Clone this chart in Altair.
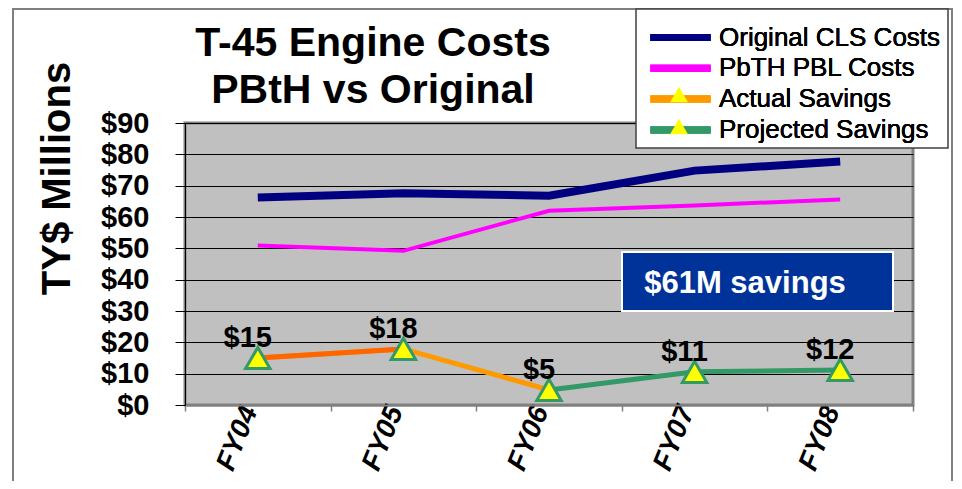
import altair as alt
import pandas as pd

# ---------------- data ----------------
years = ["FY04", "FY05", "FY06", "FY07", "FY08"]
original_cls = [66.2, 67.6, 66.8, 74.8, 77.7]
pbth_pbl = [50.9, 49.2, 62.0, 63.7, 65.6]
savings = [15.0, 17.9, 4.8, 10.6, 11.2]
savings_labels = ["$15", "$18", "$5", "$11", "$12"]
actual_years = ["FY04", "FY05", "FY06"]
first_segment_years = ["FY04", "FY05"]
projected_years = ["FY06", "FY07", "FY08"]
series_names = ["Original CLS Costs", "PbTH PBL Costs", "Actual Savings", "Projected Savings"]
series_colors = ["#000080", "#FF00FF", "#FF9900", "#339966"]
y_ticks = [0, 10, 20, 30, 40, 50, 60, 70, 80, 90]
title_lines = ["T-45 Engine Costs", "PBtH vs Original"]
note_text = "$61M savings"

FONT = "Liberation Sans"

cost_df = pd.DataFrame({
    "year": years * 2,
    "value": original_cls + pbth_pbl,
    "series": [series_names[0]] * 5 + [series_names[1]] * 5,
})
sav_df = pd.DataFrame({"year": years, "value": savings, "label": savings_labels})
actual_df = sav_df[sav_df.year.isin(actual_years)].assign(series=series_names[2])
first_df = sav_df[sav_df.year.isin(first_segment_years)]
projected_df = sav_df[sav_df.year.isin(projected_years)].assign(series=series_names[3])
points_df = sav_df.assign(series2=[series_names[2]] * 3 + [series_names[3]] * 2)
title_df = pd.DataFrame({"text": ["\n".join(title_lines)]})

# ---------------- encodings ----------------
x_enc = alt.X(
    "year:N",
    scale=alt.Scale(type="band", domain=years, paddingInner=0, paddingOuter=0),
    axis=alt.Axis(
        title=None, labelAngle=-68, labelAlign="right", labelBaseline="middle",
        labelFont=FONT, labelFontSize=28, labelFontWeight="bold", labelFontStyle="italic",
        labelColor="black", labelPadding=-4, labelOffset=-8,
        tickBand="extent", tickColor="#808080", tickSize=6, tickWidth=1.5,
        domainColor="#808080", domainWidth=2, grid=False,
    ),
)
y_enc = alt.Y(
    "value:Q",
    scale=alt.Scale(domain=[0, 90], nice=False),
    axis=alt.Axis(
        values=y_ticks, labelExpr="'$' + datum.value",
        labelFont=FONT, labelFontSize=29, labelFontWeight="bold", labelColor="black",
        labelPadding=26, tickSize=10, tickColor="black", tickWidth=1,
        domainColor="black", domainWidth=1,
        grid=True, gridColor="black", gridWidth=1,
        title="TY$ Millions", titleFont=FONT, titleFontSize=40, titleFontWeight="bold",
        titleColor="black", titleAngle=270, titleX=-116, titleY=55,
        titleAlign="center", titleBaseline="alphabetic",
    ),
)
color_enc = alt.Color(
    "series:N",
    scale=alt.Scale(domain=series_names, range=series_colors),
    legend=alt.Legend(
        orient="none", legendX=462, legendY=-99, title=None, direction="vertical",
        symbolType="M-1,0H5", symbolSize=400, symbolStrokeWidth=7,
        labelFont=FONT, labelFontSize=26, labelColor="black", labelOffset=45,
        labelLimit=400, rowPadding=1.8, padding=0,
    ),
)
shape_enc = alt.Shape(
    "series2:N",
    scale=alt.Scale(domain=series_names, range=["M0,0", "M0,0", "triangle-up", "triangle-up"]),
    legend=alt.Legend(
        orient="none", legendX=481, legendY=-99, title=None, direction="vertical",
        symbolSize=320, symbolStrokeWidth=3.5, symbolFillColor="#FFFF00",
        symbolStrokeColor="#339966", symbolOpacity=1,
        labelFont=FONT, labelFontSize=26, labelExpr="''", labelLimit=400,
        rowPadding=1.8, padding=0,
    ),
)

# ---------------- layers ----------------
frame = alt.Chart(pd.DataFrame({"k": [0]})).mark_rect(
    fill="transparent", stroke="#808080", strokeWidth=2
).encode(x=alt.value(-172), x2=alt.value(767), y=alt.value(-114), y2=alt.value(380))

legend_box = alt.Chart(pd.DataFrame({"k": [0]})).mark_rect(
    fill="white", stroke="#404040", strokeWidth=1.5
).encode(x=alt.value(451), x2=alt.value(763), y=alt.value(-114), y2=alt.value(25))

title_text = alt.Chart(title_df).mark_text(
    font=FONT, fontSize=41, fontWeight="bold", color="black",
    align="center", baseline="alphabetic", lineBreak="\n", lineHeight=47
).encode(x=alt.value(188), y=alt.value(-67), text="text:N")

cls_line = alt.Chart(cost_df[cost_df.series == series_names[0]]).mark_line(
    strokeWidth=8, strokeCap="butt"
).encode(x=x_enc, y=y_enc, color=color_enc)

pbth_line = alt.Chart(cost_df[cost_df.series == series_names[1]]).mark_line(
    strokeWidth=4
).encode(x=x_enc, y=y_enc, color=color_enc)

actual_line = alt.Chart(actual_df).mark_line(strokeWidth=5).encode(
    x=x_enc, y=y_enc, color=color_enc)

first_line = alt.Chart(first_df).mark_line(strokeWidth=5, color="#FF6600").encode(
    x=x_enc, y=y_enc)

projected_line = alt.Chart(projected_df).mark_line(strokeWidth=5).encode(
    x=x_enc, y=y_enc, color=color_enc)

points = alt.Chart(points_df).mark_point(
    filled=True, fill="#FFFF00", stroke="#339966", strokeWidth=3, size=600, opacity=1
).encode(x=x_enc, y=y_enc, shape=shape_enc)

labels = alt.Chart(sav_df).mark_text(
    font=FONT, fontSize=29, fontWeight="bold", color="black",
    baseline="alphabetic", align="center", dx=-10, dy=-11
).encode(x=x_enc, y=y_enc, text="label:N")

note_box = alt.Chart(pd.DataFrame({"text": [note_text]})).mark_rect(
    fill="#003399", stroke="white", strokeWidth=2
).encode(x=alt.value(437), x2=alt.value(708), y=alt.value(129), y2=alt.value(188))

note_label = alt.Chart(pd.DataFrame({"text": [note_text]})).mark_text(
    font=FONT, fontSize=31, fontWeight="bold", color="white",
    align="center", baseline="alphabetic"
).encode(x=alt.value(560), y=alt.value(170), text="text:N")

chart = alt.layer(
    frame, legend_box, title_text, cls_line, pbth_line, actual_line, first_line,
    projected_line, points, labels, note_box, note_label
).resolve_legend(color="independent", shape="independent").properties(
    width=728, height=282,
    padding={"left": 177, "top": 115, "right": 41, "bottom": 76},
    autosize=alt.AutoSizeParams(type="none"),
    background="white",
).configure_view(fill="#C0C0C0", stroke="#808080", strokeWidth=3)

chart.save("out.html", embed_options={"renderer": "svg", "actions": False})
